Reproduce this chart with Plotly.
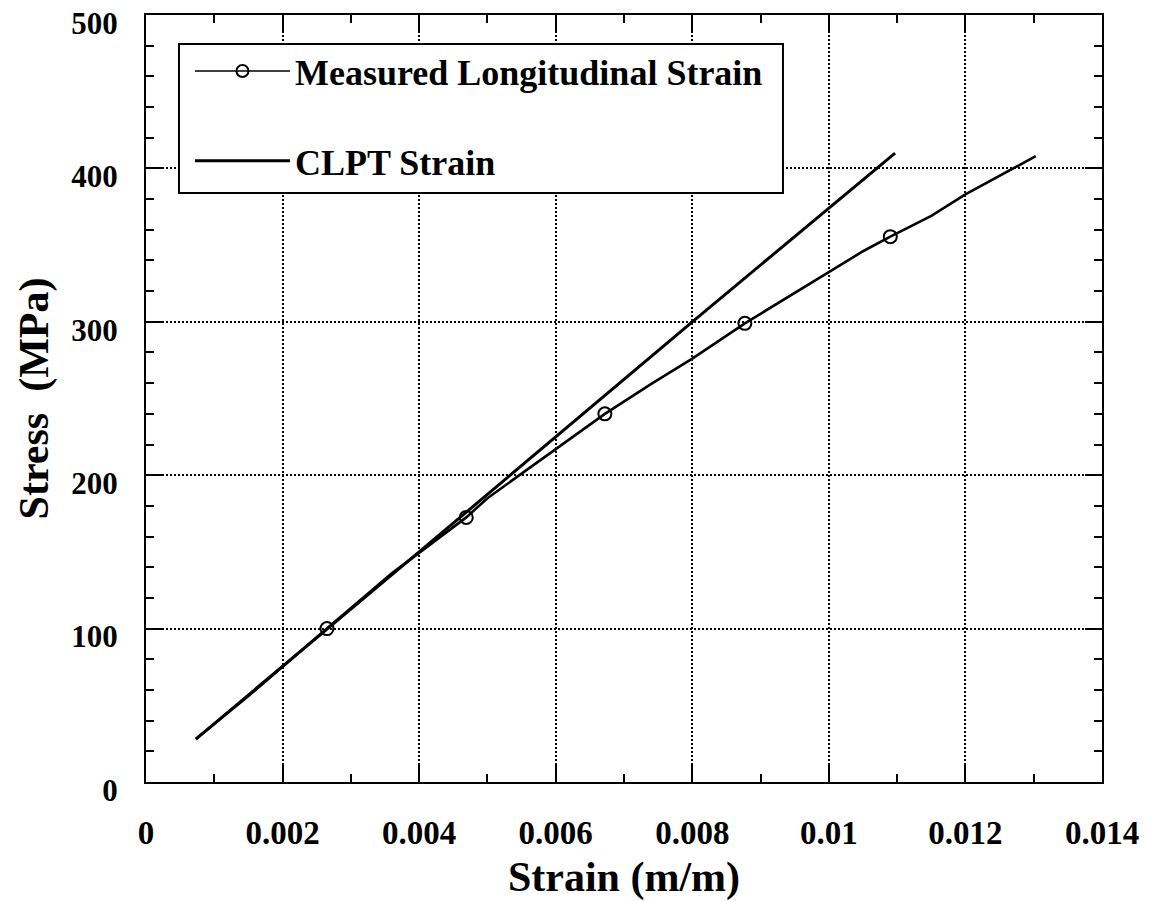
import plotly.graph_objects as go

# ---- data ----
measured_strain = [0.00073, 0.0015, 0.00265, 0.0036, 0.00469, 0.0050, 0.0055, 0.0060,
                   0.00672, 0.0074, 0.0080, 0.00877, 0.0094, 0.0100, 0.0105, 0.0109,
                   0.0115, 0.0120, 0.0127, 0.01303]
measured_stress = [28, 56, 100, 136, 172.5, 185, 201, 217,
                   240, 259.5, 276, 299, 316, 332, 346, 355.5,
                   369, 383, 400, 408]

marker_strain = [0.00265, 0.00469, 0.00672, 0.00877, 0.0109]
marker_stress = [100, 172.5, 240, 299, 355.5]

clpt_strain = [0.00073, 0.0040, 0.0080, 0.01097]
clpt_stress = [28, 150, 300, 410]

x_tick_vals = [0, 0.002, 0.004, 0.006, 0.008, 0.01, 0.012, 0.014]
x_tick_text = ["0", "0.002", "0.004", "0.006", "0.008", "0.01", "0.012", "0.014"]
y_tick_vals = [0, 100, 200, 300, 400, 500]
y_tick_text = ["0", "100", "200", "300", "400", "500"]

FONT = "Liberation Serif"

fig = go.Figure()

# measured curve (line) and its markers
fig.add_trace(go.Scatter(x=measured_strain, y=measured_stress, mode="lines",
                         line=dict(color="black", width=2.6), showlegend=False,
                         hoverinfo="skip"))
fig.add_trace(go.Scatter(x=marker_strain, y=marker_stress, mode="markers",
                         marker=dict(symbol="circle-open", size=13, color="black",
                                     line=dict(width=2, color="black")),
                         showlegend=False))
# legend entry for measured
fig.add_trace(go.Scatter(x=[None], y=[None], mode="lines+markers",
                         name="Measured Longitudinal Strain",
                         line=dict(color="black", width=1.5),
                         marker=dict(symbol="circle-open", size=12, color="black",
                                     line=dict(width=2, color="black")),
                         legendgroup="a"))
# CLPT line
fig.add_trace(go.Scatter(x=clpt_strain, y=clpt_stress, mode="lines",
                         name="CLPT Strain",
                         line=dict(color="black", width=3),
                         legendgroup="b"))

axis_common = dict(
    showline=True, linecolor="black", linewidth=2, mirror="allticks",
    ticks="inside", ticklen=17, tickwidth=2, tickcolor="black",
    showgrid=True, gridcolor="black", gridwidth=2, griddash="2px,2px",
    zeroline=False, ticklabeloverflow="allow", automargin=False,
)

fig.update_xaxes(
    range=[0, 0.014], tickvals=x_tick_vals, ticktext=x_tick_text,
    minor=dict(dtick=0.001, ticks="inside", ticklen=8, tickwidth=2, tickcolor="black",
               showgrid=False),
    ticklabelstandoff=20,
    tickfont=dict(family=FONT, size=33, color="black", weight="bold"),
    title=dict(text="Strain (m/m)", font=dict(family=FONT, size=42, color="black", weight="bold"),
               standoff=14),
    **axis_common,
)
fig.update_yaxes(
    range=[0, 500], tickvals=y_tick_vals, ticktext=y_tick_text,
    minor=dict(dtick=20, ticks="inside", ticklen=8, tickwidth=2, tickcolor="black",
               showgrid=False),
    ticklabelstandoff=20, ticklabelshift=8,
    tickfont=dict(family=FONT, size=31, color="black", weight="bold"),
    title=dict(text="Stress  (MPa)", font=dict(family=FONT, size=42, color="black", weight="bold"),
               standoff=10),
    **axis_common,
)

# opaque legend frame
fig.add_shape(type="rect", xref="paper", yref="paper",
              x0=0.0345, x1=0.6663, y0=0.768, y1=0.9622,
              fillcolor="white", line=dict(color="black", width=2), layer="above")

fig.update_layout(
    width=1154, height=901,
    margin=dict(l=146, r=52, t=15, b=119, autoexpand=False),
    plot_bgcolor="white", paper_bgcolor="white",
    font=dict(family=FONT, color="black", weight="bold"),
    legend=dict(
        x=0.046, y=0.966, xanchor="left", yanchor="top",
        bgcolor="rgba(0,0,0,0)", borderwidth=0,
        font=dict(family=FONT, size=36, color="black", weight="bold"),
        itemwidth=95, tracegroupgap=40,
    ),
    showlegend=True,
)

fig.write_html("out.html")
